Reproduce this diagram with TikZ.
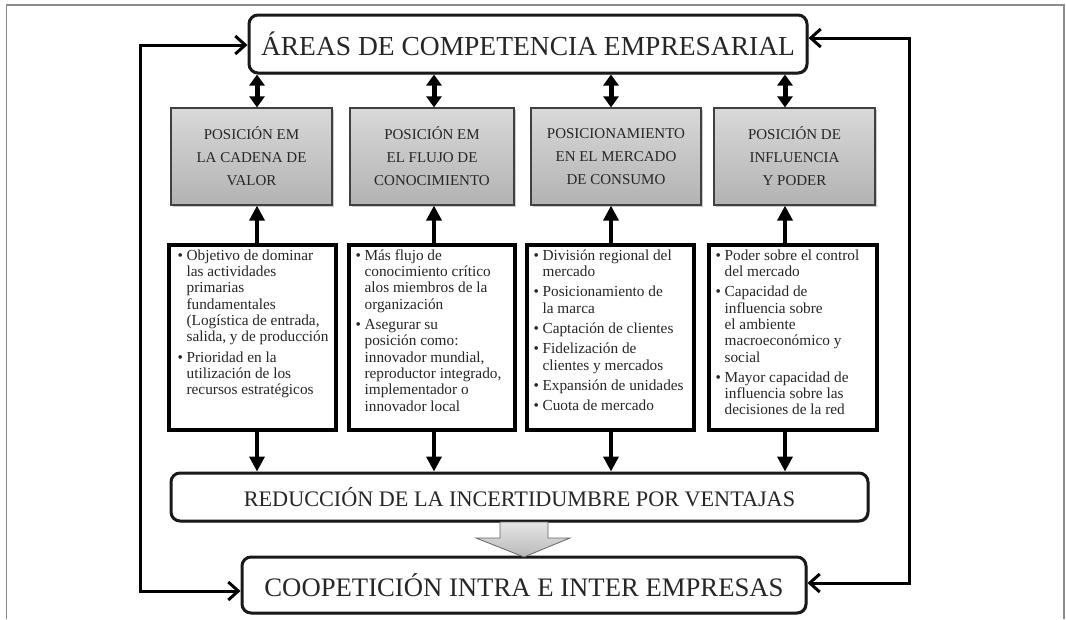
\documentclass[tikz,border=0pt]{standalone}
\usepackage{fontspec}
\setmainfont{Liberation Serif}
\usetikzlibrary{arrows.meta,calc,shadows}
\newcommand{\bl}{\makebox[9pt][l]{•}}
\newcommand{\ind}{\hspace*{9pt}}
\begin{document}
\begin{tikzpicture}[x=1pt,y=-1pt,
  txt/.style={text=black!85},
  bigbox/.style={draw=black!90,line width=3pt,rounded corners=9pt,fill=white,txt,inner sep=0pt,
     drop shadow={shadow xshift=1.5pt,shadow yshift=-1.5pt,opacity=0.2,fill=black}},
  headbox/.style={draw=black!75,line width=1.2pt,top color=gray!30,bottom color=gray!60,txt,inner sep=0pt,
     align=center,font=\fontsize{15}{23}\selectfont,
     drop shadow={shadow xshift=1.5pt,shadow yshift=-1.5pt,opacity=0.2,fill=black}},
  contbox/.style={draw=black,line width=3.2pt,fill=white,inner sep=0pt,
     drop shadow={shadow xshift=1.5pt,shadow yshift=-1.5pt,opacity=0.2,fill=black}},
  conttxt/.style={txt,anchor=north west,inner sep=0pt,align=left,font=\fontsize{15.3}{16.3}\selectfont},
  dblarrow/.style={line width=5pt,{Triangle[length=11pt,width=15pt]}-{Triangle[length=11pt,width=15pt]},draw=black},
  vertarrow/.style={line width=3.5pt,-{Triangle[length=15pt,width=15pt]},draw=black},
  looparrow/.style={line width=3pt,{Straight Barb[length=10pt,width=18pt]}-{Straight Barb[length=10pt,width=18pt]},draw=black},
  frameline/.style={draw=gray!90,line width=1.5pt}
]
\useasboundingbox (0,0) rectangle (1066,619);
% outer frame (open at bottom)
\draw[frameline] (6.5,619) -- (6.5,5) -- (1064,5) -- (1064,619);

% column x positions
\coordinate (a1) at (257,0);
\coordinate (a2) at (434,0);
\coordinate (a3) at (611,0);
\coordinate (a4) at (785,0);

% main boxes
\node[bigbox,minimum width=558pt,minimum height=58pt,font=\fontsize{27.5}{30}\selectfont] (top) at (528,44) {ÁREAS DE COMPETENCIA EMPRESARIAL};
\node[bigbox,minimum width=697pt,minimum height=48pt,font=\fontsize{22.2}{24}\selectfont] (reduc) at (519.5,497) {REDUCCIÓN DE LA INCERTIDUMBRE POR VENTAJAS};
\node[bigbox,minimum width=564pt,minimum height=56pt,font=\fontsize{26.7}{30}\selectfont] (coop) at (524,585) {COOPETICIÓN INTRA E INTER EMPRESAS};

% header boxes
\node[headbox,minimum width=161pt,minimum height=97pt] (h1) at (251.5,156.5) {POSICIÓN EM\\LA CADENA DE\\VALOR};
\node[headbox,minimum width=164pt,minimum height=97pt] (h2) at (432,156.5) {POSICIÓN EM\\EL FLUJO DE\\CONOCIMIENTO};
\node[headbox,minimum width=170pt,minimum height=97pt] (h3) at (616,156.5) {POSICIONAMIENTO\\EN EL MERCADO\\DE CONSUMO};
\node[headbox,minimum width=161pt,minimum height=97pt] (h4) at (794.5,156.5) {POSICIÓN DE\\INFLUENCIA\\Y PODER};

% content boxes
\node[contbox,minimum width=167pt,minimum height=185pt] (c1) at (252.5,337.5) {};
\node[contbox,minimum width=166pt,minimum height=185pt] (c2) at (432,337.5) {};
\node[contbox,minimum width=167pt,minimum height=185pt] (c3) at (610.5,337.5) {};
\node[contbox,minimum width=168pt,minimum height=185pt] (c4) at (793,337.5) {};

\node[conttxt] (t1) at ($(c1.north west)+(10,6)$) {\bl Objetivo de dominar\\\ind las actividades\\\ind primarias\\\ind fundamentales\\\ind (Logística de entrada,\\\ind salida, y de producción\\[4pt]\bl Prioridad en la\\\ind utilización de los\\\ind recursos estratégicos};
\node[conttxt] (t2) at ($(c2.north west)+(8,6)$) {\bl Más flujo de\\\ind conocimiento crítico\\\ind alos miembros de la\\\ind organización\\[4pt]\bl Asegurar su\\\ind posición como:\\\ind innovador mundial,\\\ind reproductor integrado,\\\ind implementador o\\\ind innovador local};
\node[conttxt] (t3) at ($(c3.north west)+(8,6)$) {\bl División regional del\\\ind mercado\\[4pt]\bl Posicionamiento de\\\ind la marca\\[4pt]\bl Captación de clientes\\[4pt]\bl Fidelización de\\\ind clientes y mercados\\[4pt]\bl Expansión de unidades\\[4pt]\bl Cuota de mercado};
\node[conttxt] (t4) at ($(c4.north west)+(8,6)$) {\bl Poder sobre el control\\\ind del mercado\\[4pt]\bl Capacidad de\\\ind influencia sobre\\\ind el ambiente\\\ind macroeconómico y\\\ind social\\[4pt]\bl Mayor capacidad de\\\ind influencia sobre las\\\ind decisiones de la red};

% double arrows top <-> headers
\draw[dblarrow] (top.south -| a1) -- (h1.north -| a1);
\draw[dblarrow] (top.south -| a2) -- (h2.north -| a2);
\draw[dblarrow] (top.south -| a3) -- (h3.north -| a3);
\draw[dblarrow] (top.south -| a4) -- (h4.north -| a4);

% up arrows content -> headers
\draw[vertarrow] (c1.north -| a1) -- (h1.south -| a1);
\draw[vertarrow] (c2.north -| a2) -- (h2.south -| a2);
\draw[vertarrow] (c3.north -| a3) -- (h3.south -| a3);
\draw[vertarrow] (c4.north -| a4) -- (h4.south -| a4);

% down arrows content -> reduction
\draw[vertarrow] (c1.south -| a1) -- (reduc.north -| a1);
\draw[vertarrow] (c2.south -| a2) -- (reduc.north -| a2);
\draw[vertarrow] (c3.south -| a3) -- (reduc.north -| a3);
\draw[vertarrow] (c4.south -| a4) -- (reduc.north -| a4);

% loop lines
\coordinate (ltop) at (140,45);
\coordinate (lbot) at (140,591);
\coordinate (rtop) at (909,38);
\coordinate (rbot) at (909,583);
\draw[looparrow] (top.west |- ltop) -- (ltop) -- (lbot) -- (coop.west |- lbot);
\draw[looparrow] (top.east |- rtop) -- (rtop) -- (rbot) -- (coop.east |- rbot);

% block arrow
\path[draw=black!60,line width=0.8pt,top color=gray!20,bottom color=gray!55]
  (500,522) -- (548,522) -- (548,538) -- (570,538) -- (524,557) -- (476,538) -- (500,538) -- cycle;
\end{tikzpicture}
\end{document}
